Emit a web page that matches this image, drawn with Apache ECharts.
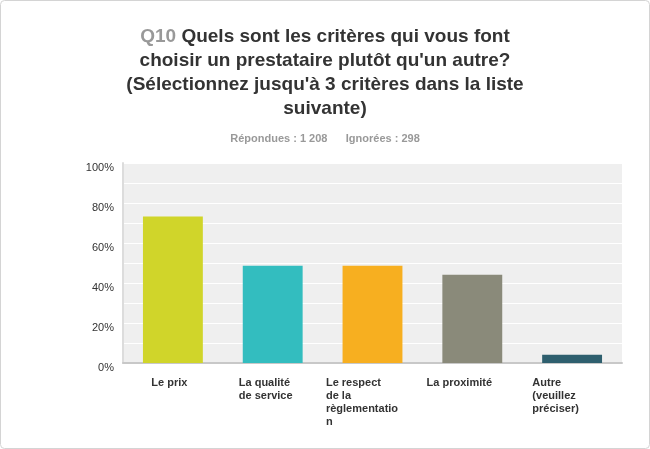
<!DOCTYPE html>
<html><head><meta charset="utf-8">
<script src="https://cdn.jsdelivr.net/npm/echarts@6/dist/echarts.min.js"></script>
<style>html,body{margin:0;padding:0;background:#fff}#c{width:650px;height:449px}</style>
</head><body><div id="c"></div>
<script>
const categories = ["Le prix", "La qualité\nde service", "Le respect\nde la\nrèglementatio\nn", "La proximité", "Autre\n(veuillez\npréciser)"];
const values = [73.2, 48.6, 48.6, 44.1, 4.1];
const colors = ["#d0d52a", "#33bdbf", "#f7af20", "#8a8a7a", "#2e5f6e"];
const yTicks = [0, 20, 40, 60, 80, 100];
const labelShift = [7, 14, 21, 26, 33];

const chart = echarts.init(document.getElementById('c'), null, {renderer: 'canvas'});
chart.setOption({
  backgroundColor: '#fff',
  animation: false,
  graphic: [{
    type: 'rect', shape: {x: 0.5, y: 0.5, width: 649, height: 448, r: 4},
    style: {fill: 'none', stroke: '#d4d4d4', lineWidth: 1}, silent: true, z: -1
  }],
  title: [{
    text: '{q|Q10} Quels sont les critères qui vous font\nchoisir un prestataire plutôt qu\'un autre?\n(Sélectionnez jusqu\'à 3 critères dans la liste\nsuivante)',
    left: 'center', top: 20,
    textStyle: {
      fontFamily: 'Liberation Sans, Arial', fontSize: 19, fontWeight: 'bold', color: '#333', lineHeight: 24, align: 'center',
      rich: {q: {fontFamily: 'Liberation Sans, Arial', fontSize: 19, fontWeight: 'bold', color: '#999', lineHeight: 24}}
    }
  }, {
    text: 'Répondues : 1 208      Ignorées : 298',
    left: 'center', top: 128,
    textStyle: {fontFamily: 'Liberation Sans, Arial', fontSize: 11, fontWeight: 'bold', color: '#999'}
  }],
  grid: {left: 123, right: 28, top: 163, bottom: 86},
  xAxis: {
    type: 'category',
    data: categories.map((c, i) => ({value: c, textStyle: {padding: [0, labelShift[i], 0, 0]}})),
    axisLine: {lineStyle: {color: '#c8c8c8', width: 2}},
    axisTick: {show: false},
    axisLabel: {
      interval: 0, margin: 13,
      fontFamily: 'Liberation Sans, Arial', fontSize: 11, fontWeight: 'bold', color: '#333', lineHeight: 13,
      formatter: v => '{a|' + v.split('\n').join('}\n{a|') + '}',
      rich: {a: {fontFamily: 'Liberation Sans, Arial', fontSize: 11, fontWeight: 'bold', color: '#333', lineHeight: 13, align: 'left'}}
    }
  },
  yAxis: {
    type: 'value', min: 0, max: 100, interval: 10,
    splitArea: {show: true, areaStyle: {color: ['#efefef', '#efefef']}},
    splitLine: {show: true, lineStyle: {color: '#ffffff', width: 1}},
    axisLine: {show: true, lineStyle: {color: '#dcdcdc', width: 2}},
    axisTick: {show: false},
    axisLabel: {
      margin: 9, verticalAlign: 'top', lineHeight: 10,
      fontFamily: 'Liberation Sans, Arial', fontSize: 11, color: '#333',
      formatter: v => yTicks.indexOf(v) >= 0 ? v + '%' : ''
    }
  },
  series: [{
    type: 'bar', barWidth: '60%',
    data: values.map((v, i) => ({value: v, itemStyle: {color: colors[i]}})),
    silent: true
  }]
});
</script></body></html>
